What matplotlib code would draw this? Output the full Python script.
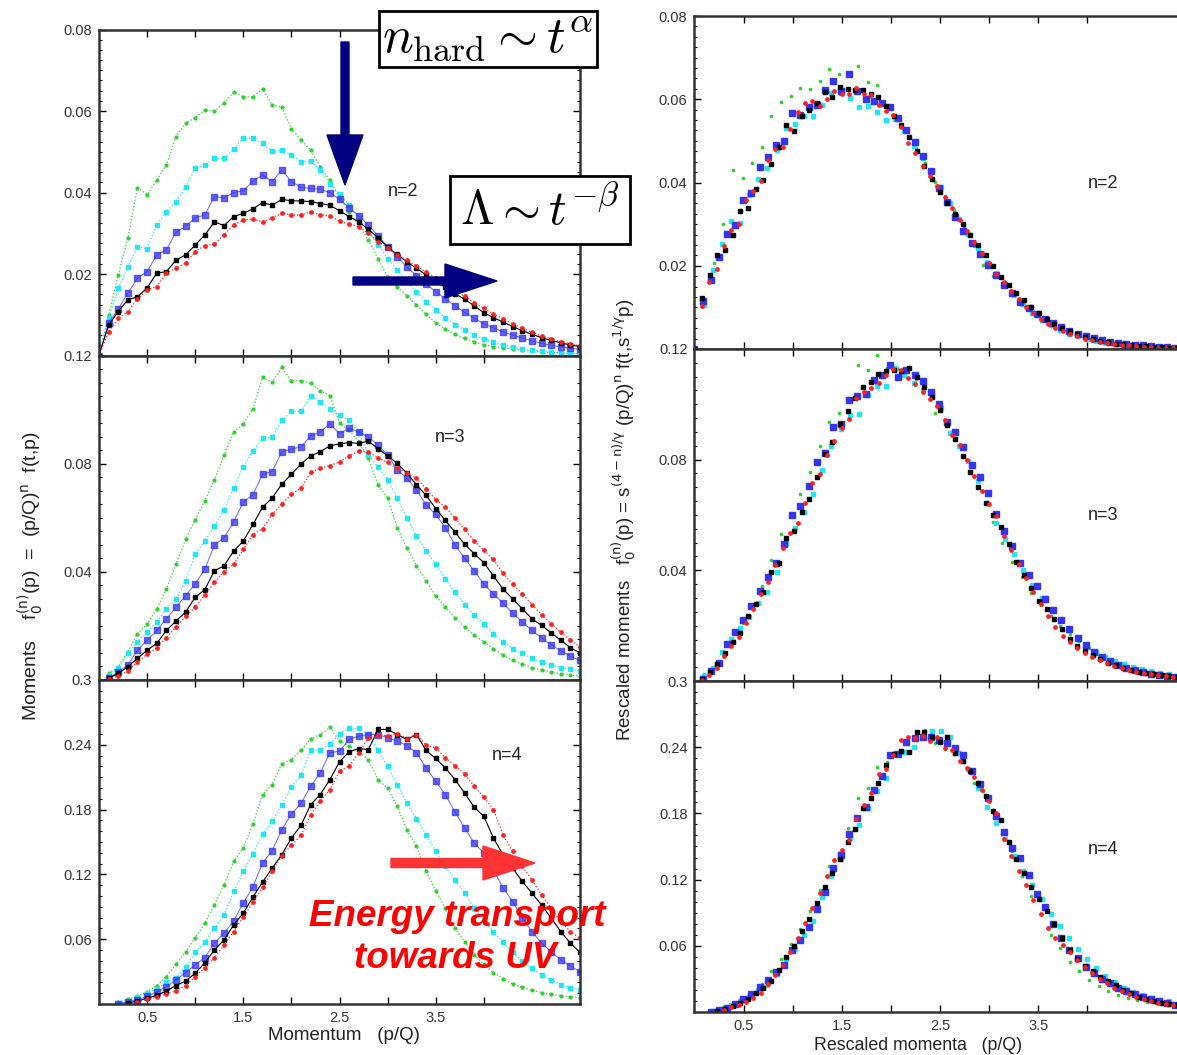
import numpy as np
import matplotlib
matplotlib.use("Agg")
import matplotlib.pyplot as plt
from matplotlib.patches import FancyArrow
from matplotlib.ticker import AutoMinorLocator

plt.rcParams['font.family'] = ['Liberation Sans', 'DejaVu Sans']

nan = np.nan

# momentum grid p/Q (step 0.1), every curve is sampled on it from p = 0
p_grid = np.round(np.arange(0, 6.65, 0.1), 2)

# ---- moments f0^(n)(p) (earliest time = green) ----
green_n2 = [0.0, 0.0099, 0.0198, 0.0288, 0.0412, 0.0395, 0.0430, 0.0467, 0.0537, 0.0570,
            0.0584, 0.0602, 0.0600, 0.0619, 0.0647, 0.0635, 0.0635, 0.0654, 0.0615, 0.0610,
            0.0557, 0.0529, 0.0504, 0.0463, 0.0430, 0.0386, 0.0353, 0.0320, 0.0283, 0.0238,
            0.0193, 0.0169, 0.0147, 0.0124, 0.0101, 0.0080, 0.0065, 0.0052, 0.0042, 0.0034,
            0.0027, 0.0022, 0.0019, 0.0016, 0.0013, 0.0011, 0.0009, 0.0007, 0.0006, 0.0005,
            0.0004]
cyan_n2 = [0.0, 0.0091, 0.0165, 0.0218, 0.0267, 0.0262, 0.0320, 0.0353, 0.0377, 0.0414,
           0.0459, 0.0468, 0.0484, 0.0484, 0.0507, 0.0533, 0.0533, 0.0521, 0.0502, 0.0504,
           0.0492, 0.0476, 0.0477, 0.0455, 0.0422, 0.0396, 0.0369, 0.0337, 0.0304, 0.0271,
           0.0238, 0.0210, 0.0181, 0.0157, 0.0132, 0.0112, 0.0093, 0.0076, 0.0063, 0.0050,
           0.0040, 0.0032, 0.0026, 0.0021, 0.0017, 0.0013, 0.0011, 0.0009, 0.0007, 0.0006,
           0.0005, 0.0004, 0.0004, 0.0003, 0.0002, 0.0002, 0.0002, 0.0001]
blue_n2 = [0.0, 0.0080, 0.0115, 0.0153, 0.0190, 0.0206, 0.0247, 0.0259, 0.0302, 0.0317,
           0.0338, 0.0345, 0.0390, 0.0387, 0.0400, 0.0404, 0.0428, 0.0443, 0.0427, 0.0455,
           0.0427, 0.0413, 0.0410, 0.0408, 0.0400, 0.0383, 0.0363, 0.0343, 0.0320, 0.0294,
           0.0267, 0.0243, 0.0218, 0.0196, 0.0175, 0.0157, 0.0139, 0.0122, 0.0106, 0.0092,
           0.0078, 0.0068, 0.0058, 0.0050, 0.0043, 0.0036, 0.0030, 0.0025, 0.0021, 0.0018,
           0.0015, 0.0012, 0.0010, 0.0008, 0.0007, 0.0006, 0.0005, 0.0004, 0.0003, 0.0002,
           0.0002, 0.0001]
black_n2 = [0.0, 0.0075, 0.0108, 0.0137, 0.0144, 0.0166, 0.0202, 0.0206, 0.0234, 0.0247,
            0.0271, 0.0296, 0.0328, 0.0319, 0.0341, 0.0349, 0.0360, 0.0375, 0.0369, 0.0383,
            0.0380, 0.0379, 0.0378, 0.0373, 0.0369, 0.0355, 0.0341, 0.0328, 0.0310, 0.0289,
            0.0267, 0.0248, 0.0230, 0.0214, 0.0198, 0.0182, 0.0167, 0.0152, 0.0138, 0.0122,
            0.0105, 0.0093, 0.0082, 0.0071, 0.0061, 0.0052, 0.0044, 0.0037, 0.0031, 0.0026,
            0.0022, 0.0018, 0.0015, 0.0012, 0.0010, 0.0008, 0.0007, 0.0006, 0.0005, 0.0004,
            0.0003, 0.0003, 0.0002, 0.0002, 0.0001]
red_n2 = [0.0, 0.0058, 0.0091, 0.0108, 0.0139, 0.0161, 0.0169, 0.0202, 0.0214, 0.0227,
          0.0255, 0.0270, 0.0273, 0.0297, 0.0320, 0.0333, 0.0335, 0.0328, 0.0338, 0.0349,
          0.0345, 0.0345, 0.0353, 0.0345, 0.0343, 0.0330, 0.0322, 0.0316, 0.0300, 0.0279,
          0.0265, 0.0247, 0.0234, 0.0220, 0.0205, 0.0190, 0.0175, 0.0160, 0.0145, 0.0130,
          0.0116, 0.0102, 0.0090, 0.0078, 0.0067, 0.0057, 0.0048, 0.0041, 0.0034, 0.0029,
          0.0024, 0.0020, 0.0017, 0.0014, 0.0012, 0.0010, 0.0008, 0.0007, 0.0006, 0.0005,
          0.0004, 0.0003, 0.0003, 0.0002, 0.0002, 0.0001, 0.0001]

green_n3 = [nan, 0.0024, 0.0049, 0.0104, 0.0171, 0.0206, 0.0263, 0.0336, 0.0428, 0.0520,
            0.0593, 0.0663, 0.0740, 0.0832, 0.0917, 0.0948, 0.1003, 0.1119, 0.1101, 0.1156,
            0.1107, 0.1107, 0.1098, 0.1070, 0.1052, 0.0950, 0.0924, 0.0880, 0.0820, 0.0722,
            0.0673, 0.0563, 0.0489, 0.0422, 0.0367, 0.0310, 0.0270, 0.0230, 0.0196, 0.0165,
            0.0141, 0.0116, 0.0092, 0.0073, 0.0059, 0.0046, 0.0037, 0.0029, 0.0023, 0.0018,
            0.0015]
cyan_n3 = [nan, 0.0018, 0.0043, 0.0098, 0.0141, 0.0177, 0.0214, 0.0263, 0.0300, 0.0367,
           0.0465, 0.0514, 0.0569, 0.0630, 0.0709, 0.0789, 0.0848, 0.0895, 0.0897, 0.0960,
           0.0993, 0.0993, 0.1052, 0.1028, 0.1003, 0.0979, 0.0960, 0.0917, 0.0832, 0.0789,
           0.0740, 0.0673, 0.0599, 0.0532, 0.0477, 0.0428, 0.0373, 0.0324, 0.0279, 0.0239,
           0.0206, 0.0171, 0.0141, 0.0116, 0.0098, 0.0080, 0.0067, 0.0056, 0.0046, 0.0039,
           0.0033, 0.0028, 0.0024, 0.0020, 0.0017, 0.0014, 0.0012, 0.0010]
blue_n3 = [nan, 0.0006, 0.0030, 0.0055, 0.0110, 0.0147, 0.0183, 0.0226, 0.0269, 0.0312,
           0.0355, 0.0410, 0.0499, 0.0526, 0.0585, 0.0658, 0.0685, 0.0761, 0.0771, 0.0844,
           0.0854, 0.0862, 0.0903, 0.0917, 0.0948, 0.0911, 0.0932, 0.0917, 0.0899, 0.0868,
           0.0832, 0.0777, 0.0746, 0.0703, 0.0648, 0.0612, 0.0563, 0.0500, 0.0450, 0.0404,
           0.0355, 0.0318, 0.0284, 0.0247, 0.0214, 0.0183, 0.0155, 0.0130, 0.0108, 0.0088,
           0.0072, 0.0059, 0.0048, 0.0039, 0.0032, 0.0026, 0.0021, 0.0017, 0.0014, 0.0011,
           0.0009, 0.0007]
black_n3 = [nan, 0.0006, 0.0024, 0.0049, 0.0080, 0.0110, 0.0135, 0.0183, 0.0218, 0.0251,
            0.0306, 0.0334, 0.0404, 0.0422, 0.0477, 0.0514, 0.0575, 0.0639, 0.0673, 0.0724,
            0.0761, 0.0799, 0.0829, 0.0844, 0.0866, 0.0873, 0.0878, 0.0875, 0.0883, 0.0856,
            0.0829, 0.0801, 0.0765, 0.0722, 0.0683, 0.0634, 0.0590, 0.0547, 0.0502, 0.0467,
            0.0434, 0.0385, 0.0336, 0.0300, 0.0263, 0.0226, 0.0202, 0.0174, 0.0147, 0.0119,
            0.0100, 0.0085, 0.0072, 0.0061, 0.0052, 0.0044, 0.0037, 0.0031, 0.0026, 0.0022,
            0.0019, 0.0016, 0.0013, 0.0011, 0.0009]
red_n3 = [nan, 0.0002, 0.0015, 0.0034, 0.0067, 0.0095, 0.0119, 0.0157, 0.0196, 0.0235,
          0.0269, 0.0314, 0.0361, 0.0400, 0.0428, 0.0483, 0.0538, 0.0560, 0.0612, 0.0651,
          0.0687, 0.0709, 0.0768, 0.0783, 0.0793, 0.0807, 0.0829, 0.0846, 0.0844, 0.0822,
          0.0805, 0.0783, 0.0765, 0.0746, 0.0707, 0.0667, 0.0639, 0.0599, 0.0557, 0.0514,
          0.0480, 0.0446, 0.0394, 0.0355, 0.0318, 0.0279, 0.0242, 0.0208, 0.0177, 0.0147,
          0.0122, 0.0105, 0.0090, 0.0077, 0.0066, 0.0056, 0.0048, 0.0041, 0.0035, 0.0030,
          0.0025, 0.0021, 0.0018, 0.0015, 0.0013, 0.0011, 0.0009]

green_n4 = [nan, nan, 0.0015, 0.0046, 0.0071, 0.0114, 0.0170, 0.0254, 0.0368, 0.0479,
            0.0615, 0.0748, 0.0918, 0.1104, 0.1320, 0.1444, 0.1667, 0.1939, 0.2032, 0.2223,
            0.2263, 0.2347, 0.2458, 0.2495, 0.2560, 0.2434, 0.2387, 0.2335, 0.2263, 0.2078,
            0.2000, 0.1830, 0.1614, 0.1460, 0.1228, 0.1048, 0.0887, 0.0702, 0.0578, 0.0455,
            0.0368, 0.0291, 0.0232, 0.0186, 0.0155, 0.0127, 0.0105, 0.0090, 0.0077, 0.0068,
            0.0059]
cyan_n4 = [nan, nan, 0.0006, 0.0028, 0.0062, 0.0099, 0.0139, 0.0201, 0.0244, 0.0343,
           0.0479, 0.0572, 0.0702, 0.0826, 0.1042, 0.1228, 0.1391, 0.1574, 0.1691, 0.1846,
           0.2007, 0.2124, 0.2347, 0.2356, 0.2403, 0.2502, 0.2551, 0.2551, 0.2495, 0.2347,
           0.2202, 0.2032, 0.1861, 0.1716, 0.1568, 0.1413, 0.1274, 0.1150, 0.1027, 0.0887,
           0.0780, 0.0670, 0.0570, 0.0480, 0.0400, 0.0330, 0.0270, 0.0220, 0.0180, 0.0150,
           0.0130, 0.0112, 0.0096, 0.0082, 0.0070, 0.0060, 0.0051, 0.0044]
blue_n4 = [nan, nan, 0.0003, 0.0022, 0.0040, 0.0071, 0.0114, 0.0161, 0.0223, 0.0291,
           0.0362, 0.0430, 0.0563, 0.0656, 0.0770, 0.0934, 0.1085, 0.1305, 0.1419, 0.1614,
           0.1759, 0.1858, 0.2016, 0.2140, 0.2325, 0.2341, 0.2449, 0.2480, 0.2495, 0.2495,
           0.2464, 0.2434, 0.2393, 0.2325, 0.2186, 0.2062, 0.1939, 0.1778, 0.1630, 0.1490,
           0.1398, 0.1243, 0.1073, 0.0949, 0.0795, 0.0671, 0.0563, 0.0485, 0.0408, 0.0353,
           0.0300, 0.0260, 0.0220, 0.0190, 0.0160, 0.0135, 0.0115, 0.0095, 0.0080, 0.0067,
           0.0056, 0.0047]
black_n4 = [nan, nan, nan, 0.0009, 0.0028, 0.0053, 0.0080, 0.0121, 0.0170, 0.0213,
            0.0284, 0.0383, 0.0501, 0.0594, 0.0733, 0.0841, 0.0989, 0.1129, 0.1258, 0.1382,
            0.1537, 0.1654, 0.1846, 0.1939, 0.2078, 0.2242, 0.2335, 0.2365, 0.2356, 0.2542,
            0.2542, 0.2495, 0.2449, 0.2495, 0.2347, 0.2273, 0.2186, 0.2078, 0.1954, 0.1821,
            0.1738, 0.1537, 0.1382, 0.1258, 0.1135, 0.1027, 0.0918, 0.0795, 0.0671, 0.0563,
            0.0479, 0.0420, 0.0370, 0.0320, 0.0280, 0.0240, 0.0200, 0.0170, 0.0140, 0.0120,
            0.0100, 0.0085, 0.0070, 0.0060, 0.0050]
red_n4 = [nan, nan, nan, nan, 0.0020, 0.0046, 0.0065, 0.0093, 0.0124, 0.0170,
          0.0254, 0.0337, 0.0430, 0.0547, 0.0671, 0.0804, 0.0943, 0.1079, 0.1228, 0.1373,
          0.1469, 0.1562, 0.1753, 0.1877, 0.1985, 0.2155, 0.2202, 0.2325, 0.2464, 0.2489,
          0.2480, 0.2502, 0.2458, 0.2495, 0.2396, 0.2372, 0.2279, 0.2208, 0.2130, 0.2016,
          0.1914, 0.1800, 0.1568, 0.1413, 0.1274, 0.1150, 0.1011, 0.0887, 0.0764, 0.0671,
          0.0609, 0.0540, 0.0470, 0.0410, 0.0350, 0.0300, 0.0260, 0.0220, 0.0190, 0.0160,
          0.0140, 0.0120, 0.0100, 0.0085, 0.0070, 0.0060, 0.0050]

# momentum rescaling factor s^(-1/gamma) for each time (green -> red)
kappa = [0.98, 0.93, 0.83, 0.78, 0.75]

moments = {
    2: [green_n2, cyan_n2, blue_n2, black_n2, red_n2],
    3: [green_n3, cyan_n3, blue_n3, black_n3, red_n3],
    4: [green_n4, cyan_n4, blue_n4, black_n4, red_n4],
}
ymax = {2: 0.08, 3: 0.12, 4: 0.3}
yticks = {2: [0.02, 0.04, 0.06, 0.08], 3: [0.04, 0.08, 0.12], 4: [0.06, 0.12, 0.18, 0.24, 0.3]}
yminor = {2: 8, 3: 8, 4: 6}

colors = ['#30d030', '#20e6f5', '#3434f4', '#000000', '#ff2020']
left_styles = [
    dict(marker='o', ms=2.0, ls=':', lw=0.9),
    dict(marker='s', ms=2.8, ls=':', lw=0.9),
    dict(marker='s', ms=4.3, ls='-', lw=0.7, alpha=0.75),
    dict(marker='s', ms=2.6, ls='-', lw=0.8),
    dict(marker='o', ms=2.4, ls=':', lw=0.9),
]
right_styles = [
    dict(marker='o', ms=1.6),
    dict(marker='s', ms=3.0),
    dict(marker='s', ms=4.3),
    dict(marker='s', ms=2.8),
    dict(marker='o', ms=2.4),
]


def style_axes(ax, n, show_x):
    ax.set_xlim(0, 5)
    ax.set_ylim(0, ymax[n])
    ax.set_xticks([0.5, 1, 1.5, 2, 2.5, 3, 3.5, 4])
    ax.set_xticklabels(['0.5', '', '1.5', '', '2.5', '', '3.5', ''])
    ax.set_yticks(yticks[n])
    ax.set_yticklabels(['%g' % t for t in yticks[n]])
    ax.yaxis.set_minor_locator(AutoMinorLocator(yminor[n]))
    ax.tick_params(direction='in', top=True, right=True, length=5, width=1,
                   labelsize=10.5, labelcolor='#333333', pad=5, labelbottom=show_x)
    ax.tick_params(which='minor', direction='in', left=True, right=True, length=2.5, width=0.8)
    for sp in ax.spines.values():
        sp.set_linewidth(1.8)
        sp.set_color('#333333')


fig = plt.figure(figsize=(11.77, 10.55), dpi=100)

# [left, bottom, width, height] in figure fractions
left_pos = {2: [0.0841, 0.6630, 0.4087, 0.3090],
            3: [0.0841, 0.3555, 0.4087, 0.3075],
            4: [0.0841, 0.0483, 0.4087, 0.3072]}
right_pos = {2: [0.5900, 0.6692, 0.4172, 0.3156],
             3: [0.5900, 0.3545, 0.4172, 0.3147],
             4: [0.5900, 0.0408, 0.4172, 0.3137]}

for n in (2, 3, 4):
    axl = fig.add_axes(left_pos[n])
    axr = fig.add_axes(right_pos[n])
    for k, vals in enumerate(moments[n]):
        y = np.array(vals, dtype=float)
        p = p_grid[:len(y)]
        axl.plot(p, y, color=colors[k], mec=colors[k], mfc=colors[k], **left_styles[k])
        # rescaled: p' = kappa p , f' = kappa^(n-4) f
        axr.plot(kappa[k] * p, kappa[k] ** (n - 4) * y, ls='none', color=colors[k],
                 mec=colors[k], mfc=colors[k], **right_styles[k])
    style_axes(axl, n, n == 4)
    style_axes(axr, n, n == 4)

# overlay in pixel coordinates for labels and annotations
ov = fig.add_axes([0, 0, 1, 1], zorder=10)
ov.set_xlim(0, 1177)
ov.set_ylim(1055, 0)
ov.axis('off')

for txt, xy in [('n=2', (403, 192)), ('n=3', (450, 437)), ('n=4', (507, 756)),
                ('n=2', (1103, 184)), ('n=3', (1103, 516)), ('n=4', (1103, 849))]:
    ov.text(xy[0], xy[1], txt, ha='center', va='center', fontsize=13, color='#222222')

ov.text(30, 576, r'Moments    f$_0^{\rm (n)}$(p)  =  (p/Q)$^{\rm n}$  f(t,p)', rotation=90,
        ha='center', va='center', fontsize=14, color='#222222')
ov.text(624, 520, r'Rescaled moments   f$_0^{\rm (n)}$(p) = s$^{\rm (4-n)/\gamma}$ (p/Q)$^{\rm n}$ f(t,s$^{\rm 1/\gamma}$p)',
        rotation=90, ha='center', va='center', fontsize=13.5, color='#222222')
ov.text(344, 1036, 'Momentum   (p/Q)', ha='center', va='center', fontsize=13.5, color='#222222')
ov.text(918, 1045, 'Rescaled momenta   (p/Q)', ha='center', va='center', fontsize=12.8, color='#222222')

navy = '#000080'
ov.add_patch(FancyArrow(345, 42, 0, 143, width=8, head_width=36, head_length=50,
                        length_includes_head=True, color=navy))
ov.add_patch(FancyArrow(353, 281, 144, 0, width=8, head_width=34, head_length=52,
                        length_includes_head=True, color=navy))
ov.add_patch(FancyArrow(391, 863, 144, 0, width=9, head_width=34, head_length=52,
                        length_includes_head=True, color='#ff3333'))

ov.text(488, 39, r'$n_{\rm hard} \sim t^{\alpha}$', ha='center', va='center', fontsize=37,
        math_fontfamily='cm',
        bbox=dict(boxstyle='square,pad=0.06', fc='white', ec='black', lw=2))
ov.text(540, 210, r'$\Lambda \sim t^{-\beta}$', ha='center', va='center', fontsize=35,
        math_fontfamily='cm',
        bbox=dict(boxstyle='square,pad=0.2', fc='white', ec='black', lw=2))

ov.text(457, 917, 'Energy transport', ha='center', va='center', fontsize=26.5,
        fontweight='bold', fontstyle='italic', color='#ff0000')
ov.text(455, 958, 'towards UV', ha='center', va='center', fontsize=26.5,
        fontweight='bold', fontstyle='italic', color='#ff0000')

fig.savefig('out.png', dpi=100)
